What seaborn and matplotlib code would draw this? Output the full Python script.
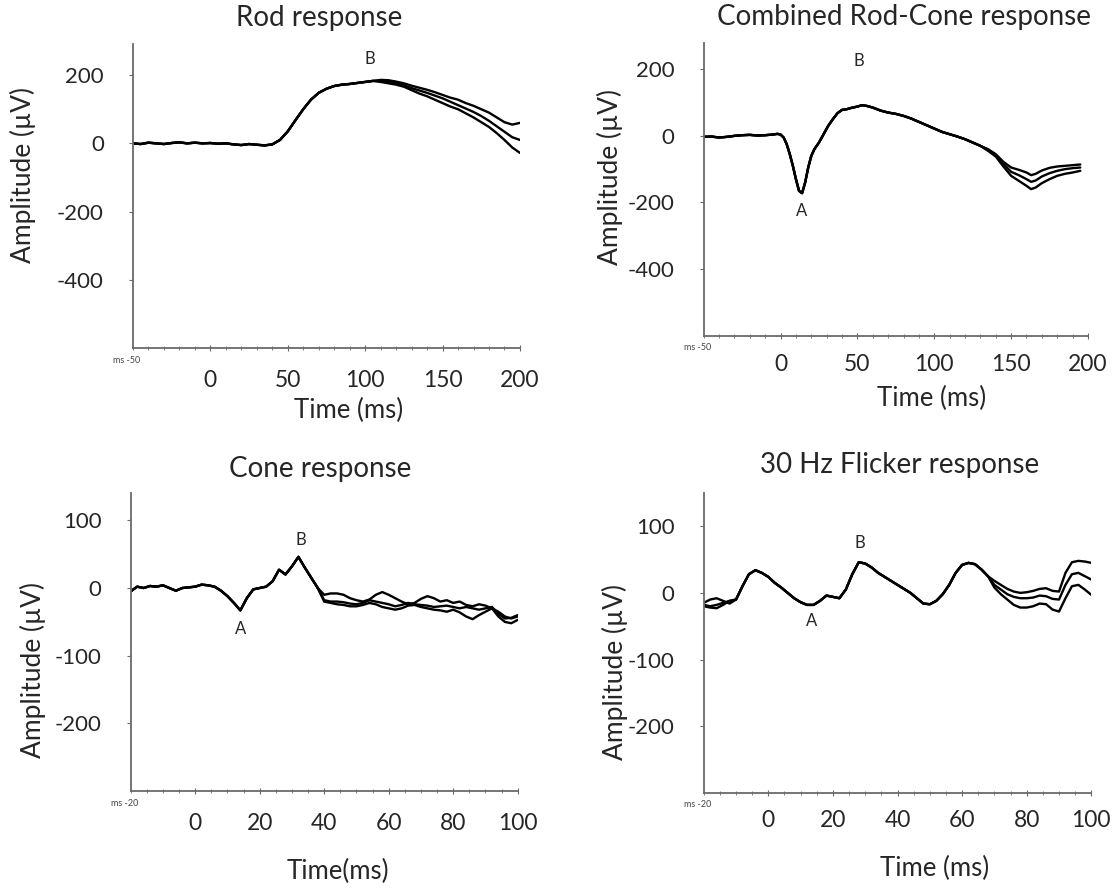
import numpy as np
import pandas as pd
import matplotlib
matplotlib.use("Agg")
import matplotlib.pyplot as plt
import seaborn as sns
from matplotlib.ticker import MultipleLocator

# -------------------- STYLE --------------------
sns.set_style("ticks")
plt.rcParams['font.family'] = ['Lato', 'DejaVu Sans']
plt.rcParams['axes.unicode_minus'] = False

# -------------------- DATA --------------------

# Rod response, time in ms, amplitude in uV
rod_time = [-50, -45, -40, -35, -30, -25, -20, -15, -10, -5, 0, 5, 10, 15, 20, 25, 30, 35, 40,
            45, 50, 55, 60, 65, 70, 75, 80, 85, 90, 95, 100, 105,
            110, 115, 120, 125, 130, 135, 140, 145, 150, 155, 160, 165, 170, 175, 180, 185, 190, 195, 200]
rod_head = [0, -2, 2, 0, -2, 1, 3, 0, 2, 0, 1, -1, 0, -3, -5, -2, -4, -6, -3,
            10, 35, 68, 100, 128, 148, 160, 168, 172, 174, 177, 180, 183]
rod_tail_1 = [186, 185, 181, 176, 169, 163, 157, 150, 142, 134, 128, 118, 110, 100, 90, 76, 62, 55, 60]
rod_tail_2 = [183, 180, 176, 170, 162, 155, 148, 140, 132, 122, 112, 102, 92, 80, 66, 50, 34, 18, 10]
rod_tail_3 = [180, 176, 172, 166, 156, 146, 138, 128, 118, 108, 100, 88, 76, 62, 48, 30, 10, -12, -28]

# Combined rod-cone response
mix_time = [-50, -45, -40, -35, -30, -25, -20, -15, -10, -5, -2, 0, 2, 4, 6, 8, 10, 12, 14, 16, 18,
            20, 22, 25, 28, 31, 34, 37, 40, 43, 46, 50, 53, 56, 60, 65, 70, 75, 80, 85, 90, 95,
            100, 105, 110, 115, 120, 125, 130,
            135, 140, 145, 150, 155, 160, 163, 166, 170, 175, 180, 185, 190, 195]
mix_head = [-3, -2, -5, -3, 0, 2, 3, 1, 2, 4, 6, 4, -5, -25, -55, -90, -130, -165, -172, -140, -95,
            -60, -40, -20, 5, 30, 50, 68, 78, 80, 84, 88, 92, 90, 85, 76, 70, 66, 60, 52, 42, 32,
            22, 12, 5, -2, -10, -20, -30]
mix_tail_1 = [-40, -55, -78, -95, -102, -110, -118, -114, -104, -96, -92, -90, -88, -86]
mix_tail_2 = [-42, -58, -84, -108, -118, -130, -138, -134, -122, -112, -105, -100, -97, -95]
mix_tail_3 = [-45, -62, -92, -120, -135, -150, -160, -155, -142, -130, -120, -114, -110, -105]

# Cone response
cone_time = list(range(-20, 101, 2))
cone_head = [-5, 2, 0, 3, 2, 4, 0, -4, 0, 1, 2, 5, 4, 2, -4, -12, -22, -33, -15, -2,
             0, 2, 10, 27, 20, 32, 46, 30, 15, 0]
cone_tail_1 = [-10, -8, -8, -10, -15, -18, -20, -17, -10, -6, -10, -15, -20, -24, -22, -16,
               -12, -15, -20, -18, -22, -20, -25, -27, -24, -26, -30, -35, -42, -45, -42]
cone_tail_2 = [-18, -20, -20, -21, -23, -24, -22, -18, -20, -22, -24, -27, -25, -22, -24, -25,
               -26, -28, -27, -26, -28, -30, -28, -30, -32, -30, -28, -38, -45, -44, -40]
cone_tail_3 = [-20, -22, -24, -25, -27, -27, -25, -22, -24, -28, -30, -32, -30, -26, -25, -28,
               -30, -32, -33, -35, -32, -36, -42, -46, -40, -35, -30, -42, -50, -52, -47]

# 30 Hz flicker response
flick_time = list(range(-20, 101, 2))
flick_start_1 = [-15, -10, -8, -12, -16]
flick_start_2 = [-20, -22, -23, -18, -12]
flick_start_3 = [-18, -20, -18, -15, -12]
flick_mid = [-10, 10, 28, 34, 30, 24, 15, 8, 0, -8, -14, -18, -18, -12, -4, -6, -8, 5, 28, 46,
             44, 38, 30, 24, 18, 12, 6, 0, -8, -16, -17, -12, -2, 12, 30, 42, 45, 43, 35, 25]
flick_tail_1 = [18, 12, 6, 2, 0, 1, 3, 6, 7, 3, 2, 30, 46, 48, 47, 45]
flick_tail_2 = [12, 5, -2, -6, -8, -8, -7, -4, -5, -9, -10, 12, 28, 30, 25, 20]
flick_tail_3 = [8, -2, -10, -18, -22, -22, -20, -16, -17, -25, -28, -8, 10, 12, 5, -3]

rod_traces = [rod_head + rod_tail_1, rod_head + rod_tail_2, rod_head + rod_tail_3]
mix_traces = [mix_head + mix_tail_1, mix_head + mix_tail_2, mix_head + mix_tail_3]
cone_traces = [cone_head + cone_tail_1, cone_head + cone_tail_2, cone_head + cone_tail_3]
flick_traces = [flick_start_1 + flick_mid + flick_tail_1,
                flick_start_2 + flick_mid + flick_tail_2,
                flick_start_3 + flick_mid + flick_tail_3]

# -------------------- PANEL SETTINGS --------------------
panels = [
    dict(title="Rod response", time=rod_time, traces=rod_traces,
         rect=[0.119, 0.608, 0.3465, 0.342], title_x=0.48, title_pad=13, xpad=13,
         xlim=(-50, 200), ylim=(-600, 290), xticks=[0, 50, 100, 150, 200], minor=10,
         yticks=[200, 0, -200, -400], xlabel="Time (ms)",
         xlab=(0.556, -0.163), ylab=(-0.251, 0.57), ms="ms -50",
         marks=[("B", 103, 248)]),
    dict(title="Combined Rod-Cone response", time=mix_time, traces=mix_traces,
         rect=[0.630, 0.622, 0.344, 0.330], title_x=0.52, title_pad=13, xpad=11,
         xlim=(-50, 200), ylim=(-600, 280), xticks=[0, 50, 100, 150, 200], minor=10,
         yticks=[200, 0, -200, -400], xlabel="Time (ms)",
         xlab=(0.594, -0.172), ylab=(-0.211, 0.54), ms="ms -50",
         marks=[("B", 51, 226), ("A", 14, -226)]),
    dict(title="Cone response", time=cone_time, traces=cone_traces,
         rect=[0.117, 0.109, 0.3465, 0.3356], title_x=0.49, title_pad=12, xpad=13,
         xlim=(-20, 100), ylim=(-300, 140), xticks=[0, 20, 40, 60, 80, 100], minor=5,
         yticks=[100, 0, -100, -200], xlabel="Time(ms)",
         xlab=(0.535, -0.228), ylab=(-0.22, 0.406), ms="ms -20",
         marks=[("B", 32.7, 71), ("A", 14, -61)]),
    dict(title="30 Hz Flicker response", time=flick_time, traces=flick_traces,
         rect=[0.630, 0.107, 0.347, 0.338], title_x=0.505, title_pad=14, xpad=10,
         xlim=(-20, 100), ylim=(-300, 150), xticks=[0, 20, 40, 60, 80, 100], minor=5,
         yticks=[100, 0, -100, -200], xlabel="Time (ms)",
         xlab=(0.595, -0.21), ylab=(-0.196, 0.403), ms="ms -20",
         marks=[("B", 28.3, 75), ("A", 13.4, -42)]),
]

# -------------------- PLOT --------------------
fig = plt.figure(figsize=(11.17, 8.88), dpi=100)
axis_grey = "#6a6a6a"

for p in panels:
    ax = fig.add_axes(p["rect"])
    n = len(p["time"])
    df = pd.DataFrame({
        "t": np.tile(p["time"], 3),
        "amp": np.concatenate(p["traces"]),
        "trace": np.repeat([1, 2, 3], n),
    })
    sns.lineplot(data=df, x="t", y="amp", units="trace", estimator=None,
                 color="black", linewidth=1.7, sort=False, ax=ax)

    ax.set_xlim(*p["xlim"])
    ax.set_ylim(*p["ylim"])
    ax.set_xticks(p["xticks"])
    ax.xaxis.set_minor_locator(MultipleLocator(p["minor"]))
    ax.set_yticks(p["yticks"])

    sns.despine(ax=ax)
    for side in ["left", "bottom"]:
        ax.spines[side].set_color(axis_grey)
        ax.spines[side].set_linewidth(1.3)

    ax.tick_params(axis="x", which="major", length=5, direction="inout", pad=p["xpad"],
                   labelsize=16.5, color=axis_grey)
    ax.tick_params(axis="x", which="minor", length=3, direction="inout", color=axis_grey)
    ax.tick_params(axis="y", length=3, pad=18, labelsize=16, color=axis_grey)

    ax.set_title(p["title"], fontsize=20, x=p["title_x"], pad=p["title_pad"])
    ax.set_xlabel(p["xlabel"], fontsize=18.5)
    ax.set_ylabel("Amplitude (\u00b5V)", fontsize=19)
    ax.xaxis.set_label_coords(*p["xlab"])
    ax.yaxis.set_label_coords(*p["ylab"])

    # small instrument label at the start of the time axis
    ax.text(0.02, -0.04, p["ms"], transform=ax.transAxes, ha="right", va="center",
            fontsize=6.5, color="#444444")

    for letter, tx, ty in p["marks"]:
        ax.text(tx, ty, letter, ha="center", va="center", fontsize=12)

fig.savefig("out.png", dpi=100, facecolor="white")
